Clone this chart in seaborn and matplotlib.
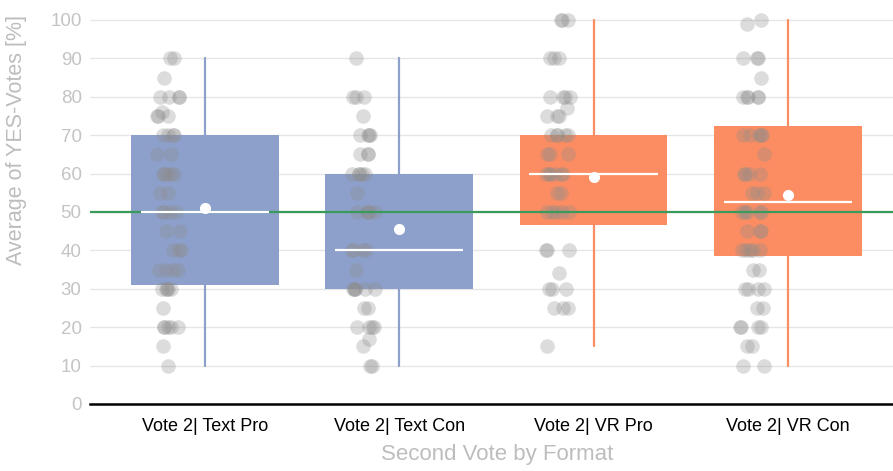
import numpy as np
import pandas as pd
import seaborn as sns
import matplotlib.pyplot as plt

# categories on the x axis
categories = ["Vote 2| Text Pro", "Vote 2| Text Con", "Vote 2| VR Pro", "Vote 2| VR Con"]

# single answers (grey dots)
text_pro = [90, 90, 85, 80, 80, 80, 80, 76, 75, 75, 75, 70, 70, 70, 70, 65, 65,
            60, 60, 60, 60, 60, 55, 55, 50, 50, 50, 50, 45, 45, 40, 40, 40,
            35, 35, 35, 35, 30, 30, 30, 30, 30, 25, 20, 20, 20, 20, 20, 15, 10]
text_con = [90, 80, 80, 80, 75, 70, 70, 70, 70, 65, 65, 65, 60, 60, 60, 60, 60,
            55, 50, 50, 50, 50, 50, 40, 40, 40, 40, 35, 30, 30, 30, 30, 30, 30,
            25, 25, 20, 20, 20, 20, 17, 15, 10, 10]
vr_pro = [100, 100, 100, 90, 90, 90, 80, 80, 80, 80, 77, 75, 75, 75, 70, 70, 70,
          70, 70, 65, 65, 65, 60, 60, 60, 60, 60, 60, 55, 55, 50, 50, 50, 50, 50,
          40, 40, 40, 34, 30, 30, 30, 25, 25, 25, 15]
vr_con = [100, 99, 90, 90, 90, 85, 80, 80, 80, 80, 80, 70, 70, 70, 70, 70, 65,
          60, 60, 60, 60, 55, 55, 55, 50, 50, 50, 50, 50, 45, 45, 45, 40, 40, 40,
          40, 40, 35, 35, 30, 30, 30, 30, 25, 25, 20, 20, 20, 20, 15, 15, 10, 10]

# box statistics as shown in the chart
q1 = [31, 30, 46.5, 38.5]
medians = [50, 40, 60, 52.5]
q3 = [70, 60, 70, 72.5]
whis_lo = [10, 10, 15, 10]
whis_hi = [90, 90, 100, 100]
means = [51, 45.5, 59, 54.5]

reference = 50

pal = sns.color_palette("Set2")
box_colors = [pal[2], pal[2], pal[1], pal[1]]

sns.set_theme(style="white")
plt.rcParams['font.family'] = ['Liberation Sans', 'DejaVu Sans']

fig = plt.figure(figsize=(8.93, 4.71), dpi=100)
ax = fig.add_axes([0.1008, 0.1423, 0.8992, 0.8397])

dfPoints = pd.DataFrame({
    "group": np.repeat(categories, [len(text_pro), len(text_con), len(vr_pro), len(vr_con)]),
    "value": text_pro + text_con + vr_pro + vr_con,
})

# boxes
stats = []
for i in range(len(categories)):
    stats.append({"q1": q1[i], "med": medians[i], "q3": q3[i], "whislo": whis_lo[i],
                  "whishi": whis_hi[i], "mean": means[i], "fliers": []})
pos = np.arange(len(categories))
bp = ax.bxp(stats, positions=pos, widths=0.76, patch_artist=True, showcaps=False,
            showfliers=False, showmeans=True, manage_ticks=False,
            medianprops={"visible": False},
            meanprops={"marker": "o", "markerfacecolor": "white", "markeredgecolor": "white",
                       "markersize": 7, "zorder": 6})
for i, patch in enumerate(bp["boxes"]):
    patch.set_facecolor(box_colors[i])
    patch.set_edgecolor(box_colors[i])
    patch.set_linewidth(0)
    patch.set_zorder(2)
for i, w in enumerate(bp["whiskers"]):
    w.set_color(box_colors[i // 2])
    w.set_linewidth(1.6)
    w.set_zorder(2)

# jittered single answers, shifted a bit left of the box centre
np.random.seed(3)
nBefore = len(ax.collections)
sns.stripplot(data=dfPoints, x="group", y="value", order=categories, ax=ax,
              color="#8c8c8c", alpha=0.3, size=10.5, jitter=0.065, linewidth=0, zorder=3)
for coll in ax.collections[nBefore:]:
    coll.set_offsets(coll.get_offsets() - np.array([0.185, 0]))

ax.axhline(reference, color="#3a9a5c", linewidth=1.6, zorder=4)
ax.hlines(medians, pos - 0.33, pos + 0.33, color="white", linewidth=1.6, zorder=5)

ax.set_xlim(-0.592, 3.541)
ax.set_ylim(0, 103)
ax.set_yticks(range(0, 101, 10))
ax.yaxis.grid(True, color="#e6e6e6", linewidth=1)
ax.set_axisbelow(True)
for s in ["top", "right", "left"]:
    ax.spines[s].set_visible(False)
ax.spines["bottom"].set_color("black")
ax.spines["bottom"].set_linewidth(1.8)
ax.tick_params(axis="y", colors="#c4c4c4", labelsize=13.5, length=0, pad=6)
ax.tick_params(axis="x", colors="black", labelsize=13, length=0, pad=10)
ax.set_xlabel("Second Vote by Format", fontsize=16, color="#bdbdbd")
ax.set_ylabel("Average of YES-Votes [%]", fontsize=15.5, color="#bdbdbd")
ax.xaxis.set_label_coords(0.507, -0.1)
ax.yaxis.set_label_coords(-0.078, 0.667)

fig.savefig("out.png", dpi=100)
